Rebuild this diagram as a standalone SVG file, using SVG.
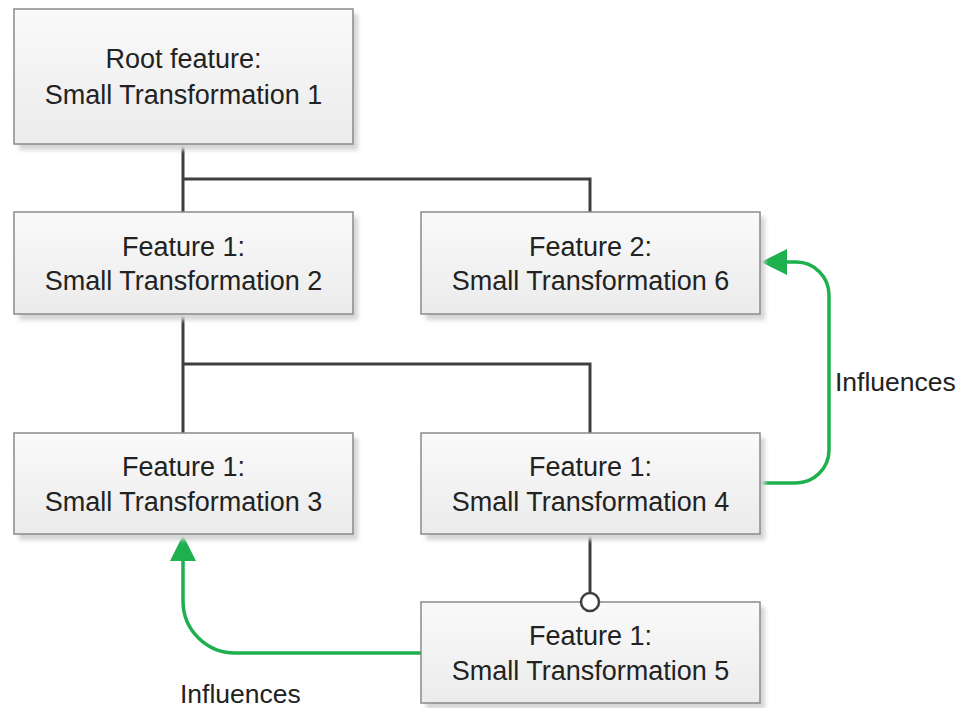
<svg xmlns="http://www.w3.org/2000/svg" width="964" height="708" viewBox="0 0 964 708">
<style>
.box{fill:url(#g);stroke:#8a8a8a;stroke-width:1.5}
.sh{fill:#d4d4d4;filter:url(#blur)}
.t{font-family:"Liberation Sans",Arial,sans-serif;font-size:27px;fill:#222;text-anchor:middle}
.lbl{font-family:"Liberation Sans",Arial,sans-serif;font-size:26.5px;fill:#222}
.c{fill:none;stroke:#3f3f3f;stroke-width:3}
.gr{fill:none;stroke:#1db04d;stroke-width:3.5}
.ah{fill:#1db04d}
</style>
<defs>
<linearGradient id="g" x1="0" y1="0" x2="0" y2="1">
<stop offset="0" stop-color="#fafafa"/>
<stop offset="1" stop-color="#ebebeb"/>
</linearGradient>
<filter id="blur" x="-10%" y="-10%" width="120%" height="130%"><feGaussianBlur stdDeviation="2"/></filter>
</defs>
<g id="connectors">
<path class="c" d="M183,144 V212 M183,179 H590 V212"/>
<path class="c" d="M183,315 V433 M183,364 H590 V433"/>
<path class="c" d="M590,534 V593"/>
<path class="gr" d="M760,483 H796 A33,33 0 0 0 829,450 V295 A33,33 0 0 0 796,262 H780"/>
<path class="ah" d="M761,262 L787,249 L787,275 Z"/>
<path class="gr" d="M421,653 H235 A52,52 0 0 1 183,601 V555"/>
<path class="ah" d="M183,535 L196,561 L170,561 Z"/>
<text class="lbl" x="835" y="391">Influences</text>
<text class="lbl" x="180" y="703">Influences</text>
</g>
<g id="n1">
<rect class="sh" x="19" y="14" width="339" height="136"/>
<rect class="box" x="14" y="9" width="339" height="135"/>
<text class="t" x="183.5" y="68">Root feature:</text>
<text class="t" x="183.5" y="104">Small Transformation 1</text>
</g>
<g id="n2">
<rect class="sh" x="19" y="217" width="339" height="103"/>
<rect class="box" x="14" y="212" width="339" height="102"/>
<text class="t" x="183.5" y="256">Feature 1:</text>
<text class="t" x="183.5" y="290">Small Transformation 2</text>
</g>
<g id="n6">
<rect class="sh" x="426" y="217" width="339" height="103"/>
<rect class="box" x="421" y="212" width="339" height="102"/>
<text class="t" x="590.5" y="256">Feature 2:</text>
<text class="t" x="590.5" y="290">Small Transformation 6</text>
</g>
<g id="n3">
<rect class="sh" x="19" y="438" width="339" height="102"/>
<rect class="box" x="14" y="433" width="339" height="101"/>
<text class="t" x="183.5" y="476">Feature 1:</text>
<text class="t" x="183.5" y="511">Small Transformation 3</text>
</g>
<g id="n4">
<rect class="sh" x="426" y="438" width="339" height="102"/>
<rect class="box" x="421" y="433" width="339" height="101"/>
<text class="t" x="590.5" y="476">Feature 1:</text>
<text class="t" x="590.5" y="511">Small Transformation 4</text>
</g>
<g id="n5">
<rect class="sh" x="426" y="607" width="339" height="102"/>
<rect class="box" x="421" y="602" width="339" height="101"/>
<text class="t" x="590.5" y="645">Feature 1:</text>
<text class="t" x="590.5" y="680">Small Transformation 5</text>
</g>
<circle cx="590" cy="602" r="9" fill="#fff" stroke="#3f3f3f" stroke-width="2.5"/>
</svg>
